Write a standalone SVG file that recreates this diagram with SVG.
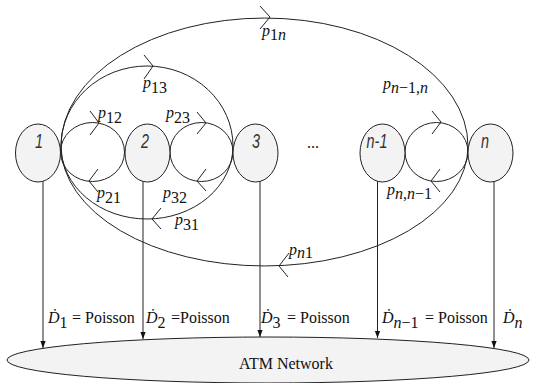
<svg xmlns="http://www.w3.org/2000/svg" width="535" height="383" viewBox="0 0 535 383">
<style>
.node{fill:#f3f3f3;stroke:#222;stroke-width:1}
.ln{fill:none;stroke:#222;stroke-width:1}
.chev{fill:none;stroke:#222;stroke-width:1}
.nl{font-family:"Liberation Sans",Arial,sans-serif;font-style:italic;font-size:20px;fill:#333;text-anchor:middle}
.lbl{font-family:"Liberation Serif","DejaVu Serif",serif;font-size:16px;fill:#111}
.it{font-style:italic}
.atm{fill:#f3f3f3;stroke:#222;stroke-width:1}
</style>
<defs>
<marker id="ah" viewBox="0 0 8 8" refX="8" refY="4" markerWidth="7" markerHeight="7" markerUnits="userSpaceOnUse" orient="auto">
<path d="M0,1 L8,4 L0,7 z" fill="#111"/>
</marker>
</defs>

<g id="atm-network">
<ellipse class="atm" cx="268" cy="360" rx="261" ry="23"/>
<text class="lbl" x="286" y="369" text-anchor="middle">ATM Network</text>
</g>

<g id="connectors">
<!-- big arcs -->
<path class="ln" d="M61,146 A203.5,128 0 0 1 468,146"/>
<path class="ln" d="M468,146 A203.5,120 0 0 1 61,146"/>
<path class="ln" d="M61,146 A86,80 0 0 1 233,146"/>
<path class="ln" d="M233,146 A86,73 0 0 1 61,146"/>
<!-- small loops -->
<ellipse class="ln" cx="92.5" cy="152" rx="32" ry="29.5"/>
<ellipse class="ln" cx="201.5" cy="152" rx="31.5" ry="29.5"/>
<ellipse class="ln" cx="436.5" cy="152" rx="31.5" ry="29.5"/>
<!-- chevrons -->
<polyline class="chev" points="260,6 270,17 260,29"/>
<polyline class="chev" points="144,55 153,66 144,79"/>
<polyline class="chev" points="90,111 99,123 90,135"/>
<polyline class="chev" points="98,169 89,181 98,192"/>
<polyline class="chev" points="197,112 206,123 197,134"/>
<polyline class="chev" points="206,169 197,181 206,191"/>
<polyline class="chev" points="432,111 441,122 432,134"/>
<polyline class="chev" points="440,169 431,181 440,192"/>
<polyline class="chev" points="161,208 152,219 161,229"/>
<polyline class="chev" points="289,253 279,266 288,277"/>
<!-- output arrows -->
<line class="ln" x1="43" y1="181" x2="43" y2="348" marker-end="url(#ah)"/>
<line class="ln" x1="143" y1="181" x2="143" y2="339" marker-end="url(#ah)"/>
<line class="ln" x1="260" y1="181" x2="260" y2="337" marker-end="url(#ah)"/>
<line class="ln" x1="377.5" y1="181" x2="377.5" y2="338" marker-end="url(#ah)"/>
<line class="ln" x1="494" y1="181" x2="494" y2="348" marker-end="url(#ah)"/>
</g>

<g id="node-1">
<ellipse class="node" cx="38" cy="153" rx="22.5" ry="29"/>
<text class="nl" transform="translate(39,148) scale(0.72,1)">1</text>
</g>
<g id="node-2">
<ellipse class="node" cx="147.5" cy="153" rx="22.5" ry="29"/>
<text class="nl" transform="translate(145,148) scale(0.72,1)">2</text>
</g>
<g id="node-3">
<ellipse class="node" cx="255.5" cy="153" rx="22.5" ry="29"/>
<text class="nl" transform="translate(256,148) scale(0.72,1)">3</text>
</g>
<g id="node-n-1">
<ellipse class="node" cx="382.5" cy="153" rx="22.5" ry="29"/>
<text class="nl" transform="translate(377,148) scale(0.72,1)">n-1</text>
</g>
<g id="node-n">
<ellipse class="node" cx="490.5" cy="153" rx="22.5" ry="29"/>
<text class="nl" transform="translate(485,148) scale(0.72,1)">n</text>
</g>
<g id="ellipsis">
<text class="lbl" x="313" y="148" text-anchor="middle" font-size="14">...</text>
</g>

<g id="labels">
<text class="lbl" x="262" y="36"><tspan class="it">p</tspan><tspan dy="4">1</tspan><tspan class="it">n</tspan></text>
<text class="lbl" x="143" y="88"><tspan class="it">p</tspan><tspan dy="5">13</tspan></text>
<text class="lbl" x="98" y="118"><tspan class="it">p</tspan><tspan dy="5">12</tspan></text>
<text class="lbl" x="166" y="118"><tspan class="it">p</tspan><tspan dy="5">23</tspan></text>
<text class="lbl" x="97" y="198"><tspan class="it">p</tspan><tspan dy="5">21</tspan></text>
<text class="lbl" x="163" y="198"><tspan class="it">p</tspan><tspan dy="5">32</tspan></text>
<text class="lbl" x="175" y="225"><tspan class="it">p</tspan><tspan dy="5">31</tspan></text>
<text class="lbl" x="289" y="255"><tspan class="it">p</tspan><tspan class="it" dy="3">n</tspan><tspan>1</tspan></text>
<text class="lbl" x="383" y="89"><tspan class="it">p</tspan><tspan class="it" dy="4">n</tspan><tspan>−1,</tspan><tspan class="it">n</tspan></text>
<text class="lbl" x="387" y="195"><tspan class="it">p</tspan><tspan class="it" dy="4">n</tspan><tspan>,</tspan><tspan class="it">n</tspan><tspan>−1</tspan></text>
<!-- output labels -->
<text class="lbl" x="48" y="323"><tspan class="it">Ḋ</tspan><tspan dy="5">1</tspan></text>
<text class="lbl" x="72" y="323">= Poisson</text>
<text class="lbl" x="146" y="323"><tspan class="it">Ḋ</tspan><tspan dy="5">2</tspan></text>
<text class="lbl" x="171" y="323">=Poisson</text>
<text class="lbl" x="261" y="323"><tspan class="it">Ḋ</tspan><tspan dy="5">3</tspan></text>
<text class="lbl" x="287" y="323">= Poisson</text>
<text class="lbl" x="382" y="323"><tspan class="it">Ḋ</tspan><tspan class="it" dy="5">n</tspan><tspan>−1</tspan></text>
<text class="lbl" x="425" y="323">= Poisson</text>
<text class="lbl" x="503" y="323"><tspan class="it">Ḋ</tspan><tspan class="it" dy="5">n</tspan></text>
</g>
</svg>
